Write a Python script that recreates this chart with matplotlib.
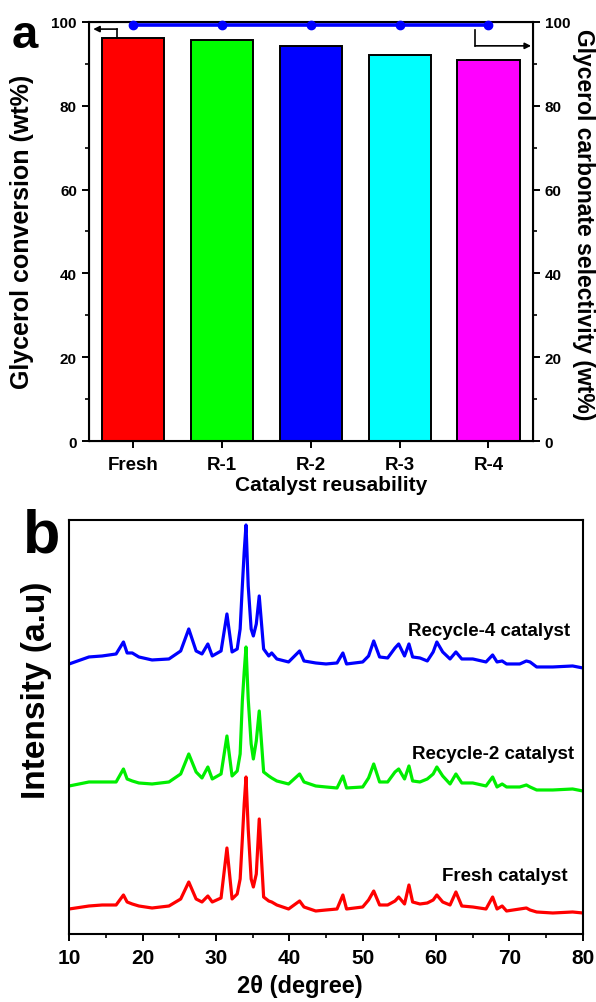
import matplotlib
matplotlib.use('Agg')
import matplotlib.pyplot as plt
from matplotlib.ticker import MultipleLocator

plt.rcParams['font.family'] = ['Liberation Sans', 'DejaVu Sans']
plt.rcParams['font.weight'] = 'bold'

# panel a: reusability
categories = ['Fresh', 'R-1', 'R-2', 'R-3', 'R-4']
conversion = [96.1, 95.8, 94.3, 92.1, 91.0]
selectivity = [99.3, 99.3, 99.3, 99.3, 99.3]
bar_colors = ['#ff0000', '#00ff00', '#0000ff', '#00ffff', '#ff00ff']

# panel b: XRD patterns (stacked, arbitrary units)
two_theta = [10, 12.7, 14.5, 16.4, 17.4, 17.9, 18.6, 19.5, 21.3, 23.6,
             25.2, 26.3, 27.3, 28.1, 28.9, 29.5, 30.7, 31.5, 32.2, 32.9,
             33.3, 33.6, 33.85, 34.1, 34.4, 34.8, 35.1, 35.5, 35.9, 36.5,
             37.2, 37.6, 38.3, 39.9, 41.4, 42.0, 43.6, 45.0, 46.5, 47.3,
             47.8, 50.0, 50.8, 51.5, 52.3, 53.4, 54.4, 54.9, 55.7, 56.3,
             56.8, 57.8, 58.8, 59.6, 60.1, 60.9, 61.9, 62.7, 63.5, 65.0,
             66.8, 67.7, 68.3, 69.0, 69.6, 71.4, 72.3, 72.8, 73.7, 75.9,
             78.6, 80]
recycle4 = [270, 277, 278, 280, 292, 281, 281, 277, 274, 275,
            283, 305, 283, 280, 290, 278, 283, 320, 282, 285,
            305, 348, 382, 409, 348, 305, 298, 310, 338, 285,
            278, 281, 275, 272, 283, 273, 271, 270, 271, 281,
            270, 272, 278, 293, 277, 276, 286, 290, 278, 290,
            277, 276, 273, 282, 292, 282, 275, 282, 275, 275,
            272, 279, 272, 273, 270, 270, 273, 272, 267, 267,
            268, 266]
recycle2 = [148, 152, 152, 152, 165, 155, 153, 151, 150, 152,
            160, 180, 162, 156, 167, 155, 160, 198, 158, 163,
            180, 233, 262, 287, 235, 190, 175, 193, 223, 162,
            158, 156, 153, 150, 160, 152, 148, 147, 146, 158,
            146, 147, 156, 170, 152, 152, 162, 165, 155, 168,
            153, 152, 155, 160, 167, 158, 150, 160, 151, 151,
            148, 157, 147, 150, 147, 147, 149, 147, 144, 144,
            145, 143]
fresh = [25, 28, 29, 29, 39, 32, 30, 28, 26, 28,
         35, 52, 35, 32, 38, 32, 36, 86, 35, 40,
         55, 95, 130, 157, 105, 55, 47, 60, 115, 37,
         33, 32, 29, 25, 33, 27, 23, 24, 25, 39,
         25, 27, 34, 43, 29, 29, 33, 37, 30, 49,
         32, 30, 31, 34, 39, 32, 29, 42, 28, 27,
         25, 37, 25, 28, 23, 25, 26, 24, 22, 21,
         22, 21]

fig = plt.figure(figsize=(5.96, 10.03), dpi=100)

# ---- panel a ----
ax = fig.add_axes([0.149, 0.5593, 0.745, 0.4178])
x = range(len(categories))
ax.bar(x, conversion, width=0.7, color=bar_colors, edgecolor='black', linewidth=1.4)
ax.set_xlim(-0.5, 4.5)
ax.set_ylim(0, 100)
ax.set_xticks(list(x))
ax.set_xticklabels(categories, fontsize=13.5, fontweight='bold')
ax.yaxis.set_major_locator(MultipleLocator(20))
ax.yaxis.set_minor_locator(MultipleLocator(10))
ax.tick_params(axis='y', which='major', direction='out', length=5, width=1.4, labelsize=11)
ax.tick_params(axis='y', which='minor', direction='out', length=3, width=1.2)
ax.tick_params(axis='x', direction='out', length=5, width=1.4, pad=6)
for s in ax.spines.values():
    s.set_linewidth(1.5)
ax.set_xlabel('Catalyst reusability', fontsize=15, fontweight='bold')
ax.xaxis.set_label_coords(0.545, -0.08)
fig.text(22 / 596, 1 - 232 / 1003, 'Glycerol conversion (wt%)', fontsize=18,
         fontweight='bold', rotation=90, ha='center', va='center')

ax2 = ax.twinx()
ax2.plot(list(x), selectivity, color='#0000ff', lw=2.6, marker='o', ms=6, clip_on=False, zorder=5)
ax2.set_ylim(0, 100)
ax2.yaxis.set_major_locator(MultipleLocator(20))
ax2.yaxis.set_minor_locator(MultipleLocator(10))
ax2.tick_params(axis='y', which='major', direction='out', length=5, width=1.4, labelsize=11)
ax2.tick_params(axis='y', which='minor', direction='out', length=3, width=1.2)
fig.text(583 / 596, 1 - 225 / 1003, 'Glycerol carbonate selectivity (wt%)', fontsize=16.5,
         fontweight='bold', rotation=270, ha='center', va='center')

# arrows showing which axis belongs to which data
ax.plot([-0.18, -0.18], [96.1, 98.3], color='black', lw=1.2)
ax.annotate('', xy=(-0.45, 98.3), xytext=(-0.18, 98.3),
            arrowprops=dict(arrowstyle='-|>', color='black', lw=1.2, mutation_scale=9,
                            shrinkA=0, shrinkB=0))
ax.plot([3.85, 3.85], [98.0, 94.3], color='black', lw=1.2)
ax.annotate('', xy=(4.48, 94.3), xytext=(3.85, 94.3),
            arrowprops=dict(arrowstyle='-|>', color='black', lw=1.2, mutation_scale=9,
                            shrinkA=0, shrinkB=0))

fig.text(0.041, 0.964, 'a', fontsize=34, fontweight='heavy', ha='center', va='center')

# ---- panel b ----
bx = fig.add_axes([0.116, 0.0678, 0.862, 0.4128])
bx.plot(two_theta, fresh, color='#ff0000', lw=2.3)
bx.plot(two_theta, recycle2, color='#00ee00', lw=2.3)
bx.plot(two_theta, recycle4, color='#0000ff', lw=2.3)
bx.set_xlim(10, 80)
bx.set_ylim(0, 414)
bx.set_yticks([])
bx.xaxis.set_major_locator(MultipleLocator(10))
bx.xaxis.set_minor_locator(MultipleLocator(5))
bx.tick_params(axis='x', which='major', direction='out', length=5, width=1.4, labelsize=15, pad=5)
bx.tick_params(axis='x', which='minor', direction='out', length=3, width=1.2)
for s in bx.spines.values():
    s.set_linewidth(1.5)
fig.text(300 / 596, 1 - 987 / 1003, '2θ (degree)', fontsize=17, fontweight='bold',
         ha='center', va='center')
fig.text(37 / 596, 1 - 690 / 1003, 'Intensity (a.u)', fontsize=24, fontweight='bold',
         rotation=90, ha='center', va='center')

bx.text(56.2, 303, 'Recycle-4 catalyst', fontsize=13.5, fontweight='bold', va='center')
bx.text(56.7, 180, 'Recycle-2 catalyst', fontsize=13.5, fontweight='bold', va='center')
bx.text(60.8, 58, 'Fresh catalyst', fontsize=13.5, fontweight='bold', va='center')

fig.text(0.07, 0.465, 'b', fontsize=44, fontweight='heavy', ha='center', va='center')

fig.savefig('out.png', dpi=100)
